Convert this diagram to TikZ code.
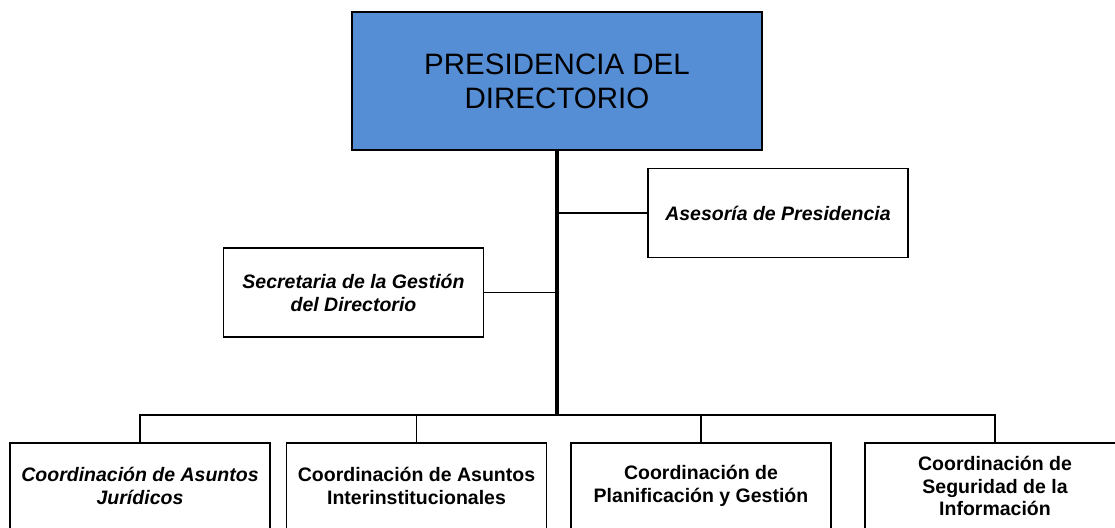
\documentclass[tikz,border=0pt]{standalone}
\usepackage{fontspec}
\setmainfont{Liberation Sans}
\usetikzlibrary{positioning,calc}
\definecolor{presblue}{RGB}{85,142,213}
\tikzset{
  blk/.style={draw, line width=1.4pt, align=center, inner sep=0pt,
              minimum width=260pt, font=\fontsize{19.5}{22.6}\selectfont},
  unit/.style={blk, minimum height=89pt, font=\fontsize{19.5}{23}\selectfont\bfseries\itshape},
  coord/.style={blk, minimum height=86pt, font=\fontsize{19.5}{22.6}\selectfont\bfseries},
  lnk/.style={line width=1.6pt},
  trunk/.style={line width=4pt},
}

\begin{document}
\begin{tikzpicture}[x=1pt,y=1pt]
    \useasboundingbox (0,0) rectangle (1115,527);
    \node[blk,fill=presblue,minimum width=410pt,minimum height=138pt,
          font=\fontsize{29.5}{34}\selectfont] (pres) at (557,446) {PRESIDENCIA DEL\\DIRECTORIO};
    \node[unit] (ases) at (778,314) {Asesoría de Presidencia};
    \node[unit] (secr) at (353.5,234.5) {Secretaria de la Gestión\\del Directorio};
    % coordinaciones
    \node[coord,font=\fontsize{19.5}{22.6}\selectfont\bfseries\itshape] (cja) at (140,41) {Coordinación de Asuntos\\Jurídicos};
    \node[coord] (cai) at (416.5,41) {Coordinación de Asuntos\\Interinstitucionales};
    \node[coord] (cpg) at (701,41) {Coordinación de\\Planificación y Gestión};
    \node[coord] (csi) at (995,41) {Coordinación de\\Seguridad de la\\Información};
    \coordinate (bus) at (557,112);
    \draw[trunk] (pres.south) -- (bus);
    \draw[lnk] (ases.west) -- (ases.west -| pres.south);
    \draw[lnk] (secr.east) -- (secr.east -| pres.south);
    \draw[lnk] (cja.north) -- (bus -| cja.north) -- (bus -| csi.north) -- (csi.north);
    \draw[lnk] (cai.north) -- (bus -| cai.north);
    \draw[lnk] (cpg.north) -- (bus -| cpg.north);
  \end{tikzpicture}
\end{document}
